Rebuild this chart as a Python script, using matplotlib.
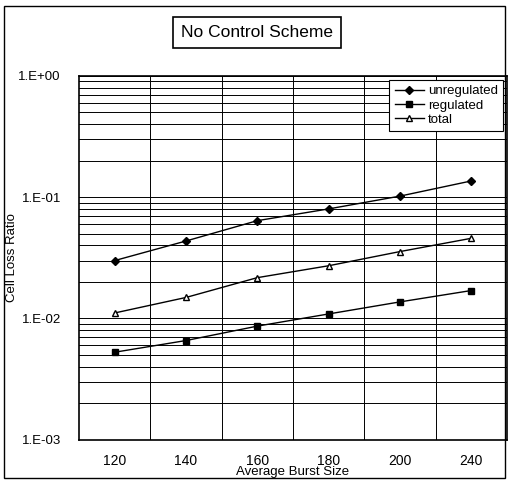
import matplotlib
matplotlib.use("Agg")
import matplotlib.pyplot as plt
from matplotlib.patches import Rectangle
from matplotlib.ticker import LogLocator, FixedLocator, NullFormatter

plt.rcParams['font.family'] = ['Liberation Sans', 'DejaVu Sans']

burst_sizes = ["120", "140", "160", "180", "200", "240"]
unregulated = [0.030, 0.0435, 0.064, 0.080, 0.102, 0.136]
regulated = [0.00527, 0.00658, 0.00865, 0.0109, 0.0137, 0.0170]
total = [0.0111, 0.0149, 0.0217, 0.0272, 0.0356, 0.0458]
y_ticks = [1e-3, 1e-2, 1e-1, 1e0]
y_tick_labels = ["1.E-03", "1.E-02", "1.E-01", "1.E+00"]

fig = plt.figure(figsize=(5.09, 4.86), dpi=100)
ax = fig.add_axes([0.155, 0.095, 0.841, 0.749])

xs = list(range(len(burst_sizes)))
ax.plot(xs, unregulated, color='black', lw=1, marker='D', ms=4, mfc='black', label='unregulated')
ax.plot(xs, regulated, color='black', lw=1, marker='s', ms=4.5, mfc='black', label='regulated')
ax.plot(xs, total, color='black', lw=1, marker='^', ms=5, mfc='white', label='total')

ax.set_yscale('log')
ax.set_ylim(1e-3, 1e0)
ax.set_xlim(-0.5, len(burst_sizes) - 0.5)
ax.set_yticks(y_ticks)
ax.set_yticklabels(y_tick_labels)
ax.yaxis.set_minor_locator(LogLocator(base=10, subs=range(2, 10)))
ax.yaxis.set_minor_formatter(NullFormatter())
ax.set_xticks(xs)
ax.set_xticklabels(burst_sizes, fontsize=10)
ax.xaxis.set_minor_locator(FixedLocator([x + 0.5 for x in xs[:-1]]))
ax.tick_params(which='both', length=0)
ax.tick_params(axis='y', labelsize=9.5, pad=13)
ax.tick_params(axis='x', pad=10)

# gridlines: horizontal at every log step, vertical between categories
ax.grid(True, which='both', axis='y', color='black', lw=0.7)
ax.grid(True, which='minor', axis='x', color='black', lw=0.7)
ax.set_axisbelow(True)
for s in ax.spines.values():
    s.set_linewidth(1.2)

ax.set_xlabel("Average Burst Size", fontsize=9.5, labelpad=-1)
ax.set_ylabel("Cell Loss Ratio", fontsize=9.5)
ax.yaxis.set_label_coords(-0.142, 0.5)

leg = ax.legend(loc='upper right', fontsize=9.5, frameon=True, fancybox=False,
                edgecolor='black', framealpha=1, handlelength=2.2,
                borderaxespad=0.3, labelspacing=0.15, handletextpad=0.3)
leg.get_frame().set_linewidth(0.8)

fig.text(0.505, 0.933, "No Control Scheme", fontsize=12.5, ha='center', va='center',
         bbox=dict(boxstyle='square,pad=0.45', fc='white', ec='black', lw=1.2))

fig.patches.append(Rectangle((0.008, 0.016), 0.984, 0.972, transform=fig.transFigure,
                             fill=False, ec='black', lw=1))

fig.savefig("out.png", dpi=100)
